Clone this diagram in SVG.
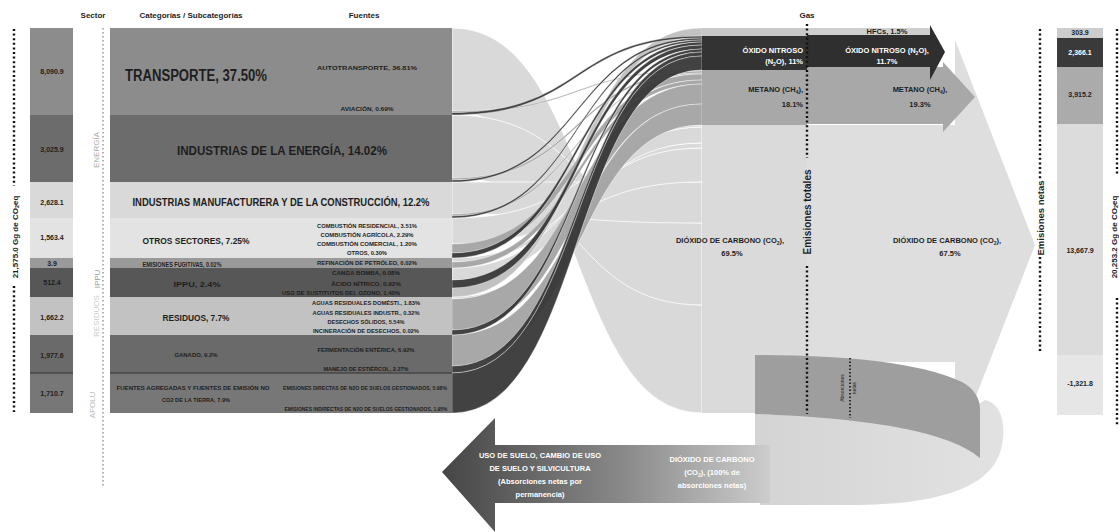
<svg xmlns="http://www.w3.org/2000/svg" width="1119" height="532" viewBox="0 0 1119 532">
<defs>
<style>
text{font-family:"Liberation Sans",Arial,sans-serif;fill:#1e1e1e}
.b{font-weight:bold}
.hd{font-size:8px;font-weight:bold}
.val{font-size:7px;font-weight:bold;text-anchor:middle}
.sub{font-size:5.5px;font-weight:bold;text-anchor:middle}
.cat{font-weight:bold;text-anchor:middle}
.wt{fill:#ffffff}
.sec{font-size:8px;text-anchor:middle;dominant-baseline:central}
.dots{stroke:#111;stroke-width:2.4;stroke-dasharray:2 2.6;fill:none}
.dotsg{stroke:#a0a0a0;stroke-width:1.6;stroke-dasharray:1.5 2.5;fill:none}
.co2{fill:#d9d9d9;stroke:#ffffff;stroke-width:0.8}
.ch4{fill:#a4a4a4;stroke:#ffffff;stroke-width:0.4;opacity:0.95}
.n2o{fill:#383838;stroke:#ffffff;stroke-width:0.4;opacity:0.95}
.hfc{fill:#c2c2c2;stroke:#ffffff;stroke-width:0.4}
.gas{font-size:7.5px;font-weight:bold}
</style>
<linearGradient id="gArrow" gradientUnits="userSpaceOnUse" x1="442" y1="0" x2="775" y2="0">
<stop offset="0" stop-color="#454545"/>
<stop offset="0.55" stop-color="#8a8a8a"/>
<stop offset="1" stop-color="#cfcfcf"/>
</linearGradient>
<linearGradient id="gSwoosh" gradientUnits="userSpaceOnUse" x1="760" y1="0" x2="1005" y2="0">
<stop offset="0" stop-color="#d4d4d4"/>
<stop offset="1" stop-color="#e2e2e2"/>
</linearGradient>
</defs>
<rect x="0" y="0" width="1119" height="532" fill="#ffffff"/>

<!-- headers -->
<g id="headers">
<text class="hd" x="93" y="18" text-anchor="middle">Sector</text>
<text class="hd" x="191" y="18" text-anchor="middle">Categorías / Subcategorías</text>
<text class="hd" x="364" y="18" text-anchor="middle">Fuentes</text>
<text class="hd" x="807" y="18" text-anchor="middle">Gas</text>
</g>

<!-- total left -->
<g id="total-left">
<line class="dots" x1="14" y1="29" x2="14" y2="186"/>
<line class="dots" x1="14" y1="286" x2="14" y2="412"/>
<text class="b" x="15" y="237" font-size="8" text-anchor="middle" dominant-baseline="central" transform="rotate(-90 15 237)">21,575.0 Gg de CO<tspan font-size="5.5" dy="1.5">2</tspan><tspan dy="-1.5">eq</tspan></text>
</g>

<!-- sector column -->
<g id="sector-column">
<rect x="30" y="28" width="43" height="87" fill="#8c8c8c"/>
<rect x="30" y="115" width="43" height="67" fill="#6c6c6c"/>
<rect x="30" y="182" width="43" height="36" fill="#d9d9d9"/>
<rect x="30" y="218" width="43" height="40" fill="#e3e3e3"/>
<rect x="30" y="258" width="43" height="10" fill="#9a9a9a"/>
<rect x="30" y="268" width="43" height="29" fill="#575757"/>
<rect x="30" y="297" width="43" height="38" fill="#c2c2c2"/>
<rect x="30" y="335" width="43" height="38" fill="#6a6a6a"/>
<rect x="30" y="373" width="43" height="40" fill="#777777"/>
<line x1="30" y1="373" x2="73" y2="373" stroke="#333" stroke-width="1"/>
<text class="val" x="52" y="74">8,090.9</text>
<text class="val" x="52" y="152">3,025.9</text>
<text class="val" x="52" y="205">2,628.1</text>
<text class="val" x="52" y="240">1,563.4</text>
<text class="val" x="52" y="266">3.9</text>
<text class="val" x="52" y="285">512.4</text>
<text class="val" x="52" y="320">1,662.2</text>
<text class="val" x="52" y="358">1,977.6</text>
<text class="val" x="52" y="396">1,710.7</text>
</g>

<!-- sector labels -->
<g id="sector-labels">
<line class="dotsg" x1="103" y1="28" x2="103" y2="488"/>
<text class="sec" x="96" y="150" fill="#a8a8a8" style="fill:#a8a8a8" transform="rotate(-90 96 150)">ENERGÍA</text>
<text class="sec" x="97" y="279" style="fill:#9a9a9a" transform="rotate(-90 97 279)">IPPU</text>
<text class="sec" x="96" y="316" style="fill:#cccccc" transform="rotate(-90 96 316)">RESIDUOS</text>
<text class="sec" x="92" y="405" style="fill:#b8b8b8" transform="rotate(-90 92 405)">AFOLU</text>
</g>

<!-- flows -->
<g id="connectors">
<!-- CO2 -->
<path class="co2" d="M452,28 C585,28 570,305 702,305 L702,413 C570,413 585,111 452,111 Z"/>
<path class="co2" d="M452,115 C585,115 570,223 702,223 L702,305 C570,305 585,178 452,178 Z"/>
<path class="co2" d="M452,182 C585,182 570,182 702,182 L702,223 C570,223 585,214 452,214 Z"/>
<path class="co2" d="M452,218 C585,218 570,148 702,148 L702,182 C570,182 585,244 452,244 Z"/>
<path class="co2" d="M452,258 C585,258 570,143 702,143 L702,148 C570,148 585,262 452,262 Z"/>
<path class="co2" d="M452,268 C585,268 570,127 702,127 L702,143 C570,143 585,280 452,280 Z"/>
<path class="co2" d="M452,297 C585,297 570,125 702,125 L702,127 C570,127 585,299 452,299 Z"/>
<!-- HFCs -->
<path class="hfc" d="M452,288 C585,288 570,28 702,28 L702,36 C570,36 585,297 452,297 Z"/>
<!-- CH4 -->
<path class="ch4" d="M452,111 C585,111 570,70 702,70 L702,71 C570,71 585,112.5 452,112.5 Z"/>
<path class="ch4" d="M452,178 C585,178 570,71 702,71 L702,73 C570,73 585,180 452,180 Z"/>
<path class="ch4" d="M452,214 C585,214 570,73 702,73 L702,74 C570,74 585,216 452,216 Z"/>
<path class="ch4" d="M452,244 C585,244 570,74 702,74 L702,80 C570,80 585,253 452,253 Z"/>
<path class="ch4" d="M452,262 C585,262 570,80 702,80 L702,84 C570,84 585,268 452,268 Z"/>
<path class="ch4" d="M452,299 C585,299 570,84 702,84 L702,104 C570,104 585,330 452,330 Z"/>
<path class="ch4" d="M452,335 C585,335 570,104 702,104 L702,125 C570,125 585,366 452,366 Z"/>
<!-- N2O -->
<path class="n2o" d="M452,112.5 C585,112.5 570,36 702,36 L702,38 C570,38 585,115 452,115 Z"/>
<path class="n2o" d="M452,180 C585,180 570,38 702,38 L702,40 C570,40 585,182 452,182 Z"/>
<path class="n2o" d="M452,216 C585,216 570,40 702,40 L702,42 C570,42 585,218 452,218 Z"/>
<path class="n2o" d="M452,253 C585,253 570,42 702,42 L702,45 C570,45 585,258 452,258 Z"/>
<path class="n2o" d="M452,280 C585,280 570,45 702,45 L702,49 C570,49 585,288 452,288 Z"/>
<path class="n2o" d="M452,330 C585,330 570,49 702,49 L702,52 C570,52 585,335 452,335 Z"/>
<path class="n2o" d="M452,366 C585,366 570,52 702,52 L702,56 C570,56 585,373 452,373 Z"/>
<path class="n2o" d="M452,373 C585,373 570,56 702,56 L702,70 C570,70 585,413 452,413 Z"/>
</g>

<!-- categories -->
<g id="categories">
<rect x="110" y="28" width="342" height="87" fill="#8c8c8c"/>
<rect x="110" y="115" width="342" height="67" fill="#6c6c6c"/>
<rect x="110" y="182" width="342" height="36" fill="#d9d9d9"/>
<rect x="110" y="218" width="342" height="40" fill="#e3e3e3"/>
<rect x="110" y="258" width="342" height="10" fill="#9a9a9a"/>
<rect x="110" y="268" width="342" height="29" fill="#575757"/>
<rect x="110" y="297" width="342" height="38" fill="#c2c2c2"/>
<rect x="110" y="335" width="342" height="38" fill="#6a6a6a"/>
<rect x="110" y="373" width="342" height="40" fill="#777777"/>
<line x1="110" y1="373" x2="452" y2="373" stroke="#333" stroke-width="1"/>
</g>

<g id="cat-transporte">
<text class="cat" x="196" y="81" font-size="16" textLength="142" lengthAdjust="spacingAndGlyphs">TRANSPORTE, 37.50%</text>
<text class="sub" x="367" y="70" textLength="100" lengthAdjust="spacingAndGlyphs">AUTOTRANSPORTE, 36.81%</text>
<text class="sub" x="367" y="111" font-size="5" textLength="53" lengthAdjust="spacingAndGlyphs">AVIACIÓN, 0.69%</text>
</g>
<g id="cat-energia">
<text class="cat" x="282" y="155" font-size="13" textLength="210" lengthAdjust="spacingAndGlyphs">INDUSTRIAS DE LA ENERGÍA, 14.02%</text>
</g>
<g id="cat-manufactura">
<text class="cat" x="281" y="206" font-size="10.5" textLength="297" lengthAdjust="spacingAndGlyphs">INDUSTRIAS MANUFACTURERA Y DE LA CONSTRUCCIÓN, 12.2%</text>
</g>
<g id="cat-otros">
<text class="cat" x="196" y="244" font-size="9.5" textLength="107" lengthAdjust="spacingAndGlyphs">OTROS SECTORES, 7.25%</text>
<text class="sub" x="367" y="228" textLength="100" lengthAdjust="spacingAndGlyphs">COMBUSTIÓN RESIDENCIAL, 3.51%</text>
<text class="sub" x="367" y="237" textLength="93" lengthAdjust="spacingAndGlyphs">COMBUSTIÓN AGRÍCOLA, 2.29%</text>
<text class="sub" x="367" y="246" textLength="100" lengthAdjust="spacingAndGlyphs">COMBUSTIÓN COMERCIAL, 1.20%</text>
<text class="sub" x="367" y="255" textLength="40" lengthAdjust="spacingAndGlyphs">OTROS, 0.30%</text>
</g>
<g id="cat-fugitivas">
<text class="cat" x="182" y="267" font-size="8" textLength="79" lengthAdjust="spacingAndGlyphs">EMISIONES FUGITIVAS, 0.02%</text>
<text class="sub" x="367" y="265" textLength="100" lengthAdjust="spacingAndGlyphs">REFINACIÓN DE PETRÓLEO, 0.02%</text>
</g>
<g id="cat-ippu">
<text class="cat" x="197" y="287" font-size="8" textLength="47" lengthAdjust="spacingAndGlyphs">IPPU, 2.4%</text>
<text class="sub" x="366" y="275" textLength="68" lengthAdjust="spacingAndGlyphs">CANGA BOMBA, 0.08%</text>
<text class="sub" x="366" y="286" textLength="70" lengthAdjust="spacingAndGlyphs">ÁCIDO NÍTRICO, 0.92%</text>
<text class="sub" x="341" y="295" textLength="118" lengthAdjust="spacingAndGlyphs">USO DE SUSTITUTOS DEL OZONO, 1.40%</text>
</g>
<g id="cat-residuos">
<text class="cat" x="196" y="321" font-size="9" textLength="67" lengthAdjust="spacingAndGlyphs">RESIDUOS, 7.7%</text>
<text class="sub" x="366" y="305" textLength="108" lengthAdjust="spacingAndGlyphs">AGUAS RESIDUALES DOMÉSTI., 1.83%</text>
<text class="sub" x="366" y="315" textLength="107" lengthAdjust="spacingAndGlyphs">AGUAS RESIDUALES INDUSTR., 0.32%</text>
<text class="sub" x="366" y="324" textLength="77" lengthAdjust="spacingAndGlyphs">DESECHOS SÓLIDOS, 5.54%</text>
<text class="sub" x="366" y="333" textLength="106" lengthAdjust="spacingAndGlyphs">INCINERACIÓN DE DESECHOS, 0.02%</text>
</g>
<g id="cat-ganado">
<text class="cat" x="196" y="357" font-size="6" textLength="43" lengthAdjust="spacingAndGlyphs">GANADO, 9.2%</text>
<text class="sub" x="366" y="352" textLength="97" lengthAdjust="spacingAndGlyphs">FERMENTACIÓN ENTÉRICA, 6.92%</text>
<text class="sub" x="366" y="371" textLength="85" lengthAdjust="spacingAndGlyphs">MANEJO DE ESTIÉRCOL, 2.27%</text>
</g>
<g id="cat-agregadas">
<text class="cat" x="193" y="390" font-size="6" textLength="153" lengthAdjust="spacingAndGlyphs">FUENTES AGREGADAS Y FUENTES DE EMISIÓN NO</text>
<text class="cat" x="196" y="402" font-size="6" textLength="68" lengthAdjust="spacingAndGlyphs">CO2 DE LA TIERRA, 7.9%</text>
<text class="sub" x="365" y="390" textLength="164" lengthAdjust="spacingAndGlyphs">EMISIONES DIRECTAS DE N2O DE SUELOS GESTIONADOS, 5.98%</text>
<text class="sub" x="366" y="411" textLength="163" lengthAdjust="spacingAndGlyphs">EMISIONES INDIRECTAS DE N2O DE SUELOS GESTIONADOS, 1.95%</text>
</g>

<!-- gas block (total) -->
<g id="gas-total">
<rect x="702" y="28" width="105" height="8" fill="#c8c8c8"/>
<rect x="702" y="36" width="105" height="34" fill="#333333"/>
<rect x="702" y="70" width="105" height="55" fill="#a8a8a8"/>
<rect x="702" y="125" width="105" height="288" fill="#dadada"/>
</g>

<!-- bottom swoosh & absorptions -->
<g id="absorciones">
<path d="M755,414 C870,418 945,428 985,400 C1002,404 1006,425 1002,445 C995,485 945,505 850,505 L760,505 L760,445 L755,445 Z" fill="url(#gSwoosh)"/>
</g>

<!-- gas net arrows -->
<g id="gas-co2">
<polygon points="807,125 955,125 955,40 1035,245 955,450 955,362 807,362" fill="#dedede"/>
</g>
<g id="gas-absorcion">
<path d="M755,355 C840,355 920,362 962,382 Q980,392 980,410 L980,458 C950,432 870,418 755,414 Z" fill="#9e9e9e"/>
</g>
<g id="gas-ch4">
<polygon points="807,67 943,67 943,62 975,97 943,132 943,124 807,124" fill="#a8a8a8"/>
</g>
<g id="gas-n2o">
<polygon points="807,35 930,35 930,25 945,52 930,80 930,67 807,67" fill="#2f2f2f"/>
</g>
<g id="gas-hfc">
<rect x="807" y="28" width="123" height="7" fill="#cfcfcf"/>
</g>

<!-- gas labels -->
<g id="gas-labels">
<text class="gas wt" x="803" y="53" text-anchor="end" style="fill:#fff">ÓXIDO NITROSO</text>
<text class="gas wt" x="803" y="64" text-anchor="end" style="fill:#fff">(N<tspan font-size="5" dy="1.5">2</tspan><tspan dy="-1.5">O), 11%</tspan></text>
<text class="gas" x="803" y="92" text-anchor="end">METANO (CH<tspan font-size="5" dy="1.5">4</tspan><tspan dy="-1.5">),</tspan></text>
<text class="gas" x="803" y="107" text-anchor="end">18.1%</text>
<text class="gas" x="730" y="243" text-anchor="middle">DIÓXIDO DE CARBONO (CO<tspan font-size="5" dy="1.5">2</tspan><tspan dy="-1.5">),</tspan></text>
<text class="gas" x="732" y="256" text-anchor="middle">69.5%</text>
<text class="gas" x="887" y="34" text-anchor="middle" font-size="6.5">HFCs, 1.5%</text>
<text class="gas" x="887" y="53" text-anchor="middle" style="fill:#fff">ÓXIDO NITROSO (N<tspan font-size="5" dy="1.5">2</tspan><tspan dy="-1.5">O),</tspan></text>
<text class="gas" x="887" y="64" text-anchor="middle" style="fill:#fff">11.7%</text>
<text class="gas" x="920" y="92" text-anchor="middle">METANO (CH<tspan font-size="5" dy="1.5">4</tspan><tspan dy="-1.5">),</tspan></text>
<text class="gas" x="920" y="107" text-anchor="middle">19.3%</text>
<text class="gas" x="947" y="243" text-anchor="middle">DIÓXIDO DE CARBONO (CO<tspan font-size="5" dy="1.5">2</tspan><tspan dy="-1.5">),</tspan></text>
<text class="gas" x="950" y="256" text-anchor="middle">67.5%</text>
</g>

<!-- emisiones totales line -->
<g id="emisiones-totales">
<line class="dots" x1="807" y1="24" x2="807" y2="158"/>
<line class="dots" x1="807" y1="266" x2="807" y2="414"/>
<text class="b" x="807" y="212" font-size="10" text-anchor="middle" dominant-baseline="central" transform="rotate(-90 807 212)">Emisiones totales</text>
</g>

<!-- absorciones netas marker -->
<g id="absorciones-netas">
<line stroke="#111" stroke-width="1.6" stroke-dasharray="1.5 2" x1="850" y1="358" x2="850" y2="418"/>
<text x="842" y="388" font-size="5" text-anchor="middle" dominant-baseline="central" transform="rotate(-90 842 388)">Absorciones</text>
<text x="854" y="388" font-size="5" text-anchor="middle" dominant-baseline="central" transform="rotate(-90 854 388)">netas</text>
</g>

<!-- bottom arrow -->
<g id="afolu-arrow">
<polygon points="442,472 495,418 495,445 770,445 770,503 495,503 495,532" fill="url(#gArrow)"/>
<text class="gas" x="540" y="458" text-anchor="middle" style="fill:#fff" font-size="7">USO DE SUELO, CAMBIO DE USO</text>
<text class="gas" x="540" y="471" text-anchor="middle" style="fill:#fff" font-size="7">DE SUELO Y SILVICULTURA</text>
<text class="gas" x="540" y="484" text-anchor="middle" style="fill:#fff" font-size="7">(Absorciones netas por</text>
<text class="gas" x="540" y="497" text-anchor="middle" style="fill:#fff" font-size="7">permanencia)</text>
<text class="gas" x="712" y="462" text-anchor="middle" style="fill:#fff" font-size="7">DIÓXIDO DE CARBONO</text>
<text class="gas" x="712" y="475" text-anchor="middle" style="fill:#fff" font-size="7">(CO<tspan font-size="5" dy="1.5">2</tspan><tspan dy="-1.5">), (100% de</tspan></text>
<text class="gas" x="712" y="488" text-anchor="middle" style="fill:#fff" font-size="7">absorciones netas)</text>
</g>

<!-- emisiones netas -->
<g id="emisiones-netas">
<line class="dots" x1="1040" y1="29" x2="1040" y2="180"/>
<line class="dots" x1="1040" y1="257" x2="1040" y2="352"/>
<text class="b" x="1040" y="218" font-size="9.5" text-anchor="middle" dominant-baseline="central" transform="rotate(-90 1040 218)">Emisiones netas</text>
</g>

<g id="net-column">
<rect x="1057" y="28" width="46" height="10" fill="#cccccc"/>
<rect x="1057" y="38" width="46" height="29" fill="#3a3a3a"/>
<rect x="1057" y="67" width="46" height="57" fill="#ababab"/>
<rect x="1057" y="124" width="46" height="231" fill="#dcdcdc"/>
<rect x="1057" y="355" width="46" height="60" fill="#e6e6e6"/>
<text class="val" x="1080" y="35" font-size="6">303.9</text>
<text class="val" x="1080" y="55" style="fill:#fff">2,366.1</text>
<text class="val" x="1080" y="97">3,915.2</text>
<text class="val" x="1080" y="253">13,667.9</text>
<text class="val" x="1080" y="386">-1,321.8</text>
</g>

<g id="total-right">
<line class="dots" x1="1117" y1="29" x2="1117" y2="176"/>
<line class="dots" x1="1117" y1="298" x2="1117" y2="425"/>
<text class="b" x="1114" y="237" font-size="8" text-anchor="middle" dominant-baseline="central" transform="rotate(-90 1114 237)">20,253.2 Gg de CO<tspan font-size="5.5" dy="1.5">2</tspan><tspan dy="-1.5">eq</tspan></text>
</g>
</svg>
